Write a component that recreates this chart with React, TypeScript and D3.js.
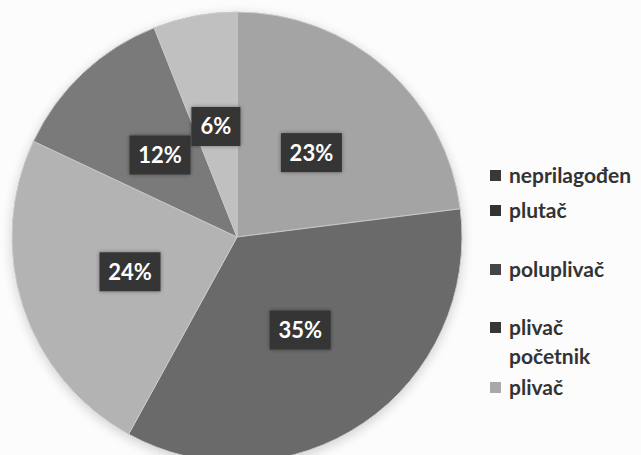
import * as d3 from "d3";

const categories = ["neprilagođen", "plutač", "poluplivač", "plivač početnik", "plivač"];
const values = [23, 35, 24, 12, 6];
const sliceColors = ["#a4a4a4", "#6a6a6a", "#b3b3b3", "#7a7a7a", "#c0c0c0"];
const legendColors = ["#383838", "#333333", "#454545", "#363636", "#a8a8a8"];

export default function App() {
  const width = 641;
  const height = 455;
  const cx = 237;
  const cy = 237;
  const radius = 225;

  const pie = d3
    .pie<number>()
    .sort(null)
    .value((d) => d);
  const arcs = pie(values);

  const arc = d3.arc<d3.PieArcDatum<number>>().innerRadius(0).outerRadius(radius);

  // legend rows: y of first line of each entry
  const legendY = [176, 211, 270, 328, 388];

  return (
    <svg
      width={width}
      height={height}
      style={{ position: "fixed", left: 0, top: 0, background: "#fcfcfc" }}
      fontFamily="Lato, 'Open Sans', sans-serif"
    >
      <defs>
        <filter id="shadow" x="-20%" y="-20%" width="140%" height="140%">
          <feGaussianBlur in="SourceAlpha" stdDeviation="6" />
          <feOffset dx="0" dy="3" result="b" />
          <feComponentTransfer>
            <feFuncA type="linear" slope="0.18" />
          </feComponentTransfer>
          <feMerge>
            <feMergeNode />
            <feMergeNode in="SourceGraphic" />
          </feMerge>
        </filter>
        <filter id="boxShadow" x="-30%" y="-30%" width="160%" height="160%">
          <feGaussianBlur in="SourceAlpha" stdDeviation="2" />
          <feComponentTransfer>
            <feFuncA type="linear" slope="0.4" />
          </feComponentTransfer>
          <feMerge>
            <feMergeNode />
            <feMergeNode in="SourceGraphic" />
          </feMerge>
        </filter>
      </defs>

      <g transform={`translate(${cx},${cy})`}>
        <g filter="url(#shadow)">
          {arcs.map((a, i) => (
            <path key={i} d={arc(a)!} fill={sliceColors[i]} stroke="#c8c8c8" strokeWidth={1} />
          ))}
        </g>
        {arcs.map((a, i) => {
          const [x, y] = arc.centroid(a);
          const label = `${values[i]}%`;
          const w = label.length === 2 ? 49 : 61;
          const h = 39;
          return (
            <g key={i} transform={`translate(${x},${y})`}>
              <rect
                x={-w / 2}
                y={-h / 2}
                width={w}
                height={h}
                fill="#363636"
                filter="url(#boxShadow)"
              />
              <text
                textAnchor="middle"
                dy="0.36em"
                fill="#ffffff"
                fontSize={22}
                fontWeight="bold"
              >
                {label}
              </text>
            </g>
          );
        })}
      </g>

      <g>
        {categories.map((c, i) => {
          const words = c === "plivač početnik" ? ["plivač", "početnik"] : [c];
          return (
            <g key={c} transform={`translate(490,${legendY[i]})`}>
              <rect x={0} y={-6} width={11} height={11} fill={legendColors[i]} />
              {words.map((w, j) => (
                <text
                  key={j}
                  x={19}
                  y={j * 29}
                  dy="0.35em"
                  fontSize={21}
                  fontWeight="bold"
                  fill="#333333"
                >
                  {w}
                </text>
              ))}
            </g>
          );
        })}
      </g>
    </svg>
  );
}
